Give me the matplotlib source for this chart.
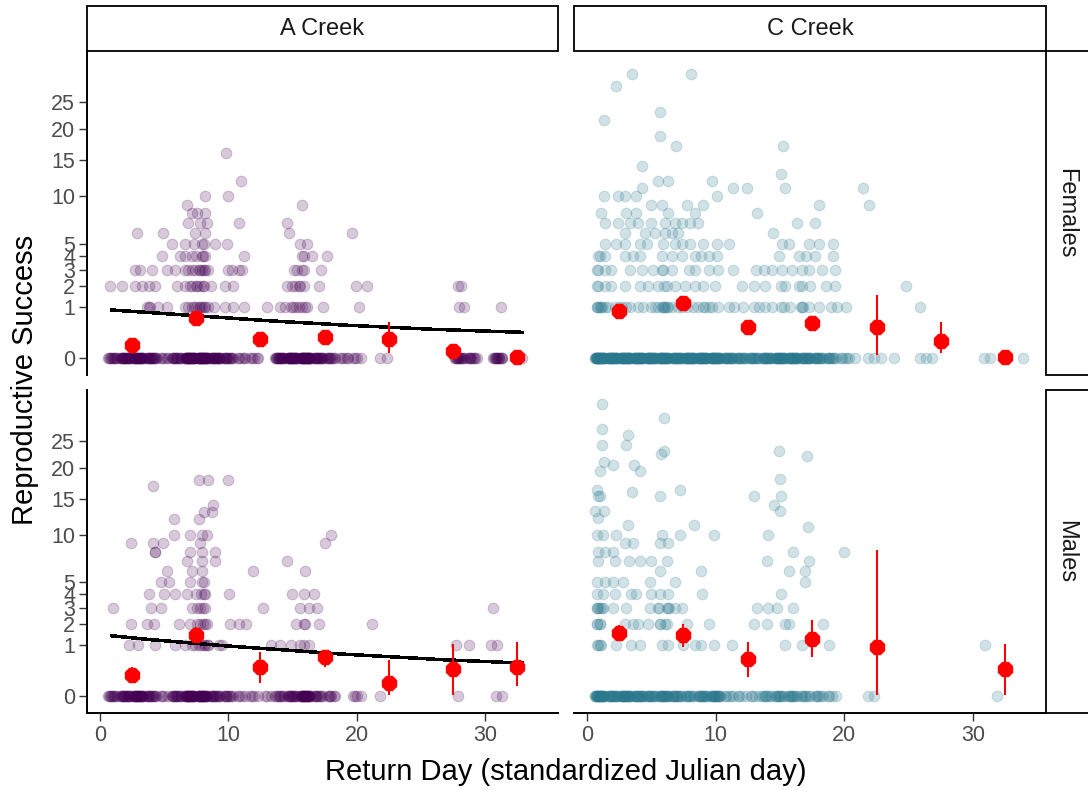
import numpy as np
import matplotlib
matplotlib.use('Agg')
import matplotlib.pyplot as plt
from matplotlib.patches import Rectangle

W, H = 1088, 790

creeks = ['A Creek', 'C Creek']
sexes = ['Females', 'Males']
creek_colors = ['#440154', '#2A788E']

day_ticks = [0, 10, 20, 30]
rs_ticks = [0, 1, 2, 3, 4, 5, 10, 15, 20, 25]

# centres of the 5-day bins used for the red mean +/- se
bin_mid = [2.5, 7.5, 12.5, 17.5, 22.5, 27.5, 32.5]

# ---- A Creek, females ----
a_fem_levels = [16, 12, 10, 9, 8, 7, 6, 5, 4, 3, 2, 1]
a_fem_days = [
    [9.8],
    [11.0],
    [10.0, 8.2],
    [6.8, 15.7],
    [7.2, 7.6, 8.15],
    [6.9, 7.8, 8.35, 10.8, 14.6],
    [2.9, 4.9, 7.4, 8.2, 14.7, 19.6],
    [5.65, 6.65, 7.3, 7.95, 8.1, 9.0, 9.9, 15.6, 16.15],
    [4.8, 6.2, 6.65, 7.2, 7.5, 7.95, 8.0, 8.15, 11.2, 15.75, 15.9, 16.5, 17.7],
    [2.75, 3.15, 4.05, 5.2, 5.85, 6.65, 6.9, 7.2, 7.4, 7.7, 7.8, 7.95, 8.1, 8.2,
     8.45, 10.0, 10.3, 10.8, 11.05, 15.1, 15.35, 15.75, 15.9, 17.2],
    [0.8, 1.75, 2.75, 3.3, 3.8, 4.3, 6.0, 6.65, 7.0, 7.2, 7.45, 7.6, 7.8, 8.0, 8.1,
     8.65, 9.75, 10.4, 14.6, 14.95, 15.2, 15.5, 15.6, 15.9, 17.05, 19.9, 20.8,
     27.85, 28.1],
    [3.65, 3.8, 3.9, 4.55, 5.2, 6.65, 6.9, 7.15, 7.3, 7.45, 7.7, 7.8, 7.95, 8.1,
     8.2, 8.45, 8.85, 9.75, 10.4, 11.2, 13.0, 14.05, 14.45, 14.85, 15.0, 15.25,
     15.5, 15.75, 16.0, 16.15, 17.4, 20.15, 27.95, 28.35, 31.2],
]
a_fem_zero_day = [1, 2, 3, 4, 5, 6, 7, 8, 9, 10, 11, 12, 14, 15, 16, 17, 18, 19, 20, 22, 28, 29, 31, 33]
a_fem_zero_n = [10, 18, 22, 15, 5, 12, 28, 28, 18, 12, 5, 5, 16, 22, 28, 15, 9, 5, 4, 2, 12, 9, 12, 1]
a_fem_mean = [0.068, 0.61, 0.138, 0.178, 0.143, 0.022, 0.0004]
a_fem_lo = [0.04, 0.5, 0.09, 0.12, 0.0096, 0.008, 0.0]
a_fem_hi = [0.11, 0.72, 0.2, 0.25, 0.51, 0.045, 0.005]
a_fem_fit_day = [0.93, 5.8, 13.5, 19.4, 26.0, 32.9]
a_fem_fit_rs = [0.89, 0.74, 0.53, 0.415, 0.32, 0.258]

# ---- C Creek, females ----
c_fem_levels = [30.8, 28.3, 23.1, 21.7, 18.8, 17.2, 14.1, 13, 12, 11, 10, 9, 8, 7, 6, 5, 4, 3, 2, 1]
c_fem_days = [
    [3.5, 8.05],
    [2.3],
    [5.7],
    [1.35],
    [5.7],
    [6.95, 15.2],
    [4.3],
    [15.1],
    [5.55, 6.3, 9.75],
    [4.3, 11.35, 12.45, 15.35, 21.45],
    [1.35, 2.4, 2.95, 3.85, 10.1],
    [5.0, 5.8, 7.75, 9.0, 18.0, 21.9],
    [1.1, 3.05, 3.85, 6.3, 8.4, 13.2],
    [1.4, 2.4, 3.35, 4.0, 5.0, 6.05, 6.85, 7.35, 8.0, 8.65, 16.35, 17.7],
    [2.95, 4.5, 5.3, 6.05, 6.6, 7.1, 14.45],
    [1.4, 2.3, 2.95, 4.1, 4.65, 5.95, 6.85, 7.35, 8.0, 9.05, 10.1, 11.0, 15.15,
     15.7, 17.25, 18.0, 19.15],
    [0.85, 1.0, 1.4, 2.95, 3.6, 4.1, 5.8, 6.6, 7.35, 8.4, 8.9, 9.45, 10.1, 14.95,
     16.45, 17.0, 17.75, 19.15],
    [0.8, 0.9, 1.4, 1.9, 3.35, 4.25, 5.15, 5.8, 5.9, 6.6, 7.9, 8.4, 9.45, 10.2,
     11.35, 13.1, 13.75, 14.4, 15.15, 15.95, 16.7, 17.25, 18.3, 19.3],
    [0.8, 0.85, 1.4, 1.9, 2.95, 4.1, 4.75, 5.55, 6.0, 6.2, 6.85, 7.6, 8.4, 9.05,
     9.95, 12.05, 12.95, 13.85, 15.05, 15.4, 16.5, 16.7, 17.35, 18.55, 19.3, 24.75],
    [0.75, 0.8, 0.9, 1.0, 1.1, 1.2, 1.4, 1.65, 2.15, 2.5, 2.7, 3.0, 3.35, 4.0,
     4.35, 5.0, 5.3, 5.55, 5.8, 5.9, 6.0, 6.1, 6.2, 6.3, 6.6, 7.1, 7.4, 7.75,
     8.25, 8.65, 9.0, 9.2, 9.5, 9.7, 10.2, 11.0, 11.4, 12.15, 12.95, 13.4, 13.85,
     14.4, 15.05, 15.3, 15.8, 16.6, 16.7, 16.8, 17.25, 18.0, 18.95, 19.45, 20.1,
     25.9],
]
c_fem_zero_day = [1, 2, 3, 4, 5, 6, 7, 8, 9, 10, 11, 12, 13, 14, 15, 16, 17, 18, 19, 20,
                  21, 22, 23, 24, 26, 27, 31, 34]
c_fem_zero_n = [30, 24, 26, 24, 22, 22, 18, 22, 22, 22, 15, 12, 12, 15, 18, 18, 15, 12, 9, 5,
                1, 2, 1, 1, 2, 1, 2, 1]
c_fem_mean = [0.85, 1.15, 0.37, 0.48, 0.37, 0.118, 0.0006]
c_fem_lo = [0.73, 1.0, 0.29, 0.40, 0.004, 0.012, 0.0]
c_fem_hi = [0.99, 1.32, 0.46, 0.58, 1.53, 0.51, 0.005]

# ---- A Creek, males ----
a_mal_levels = [18, 17, 14, 13, 12, 10, 9, 8, 7, 6, 5, 4, 3, 2, 1]
a_mal_days = [
    [7.7, 8.4, 9.95],
    [4.1],
    [8.8],
    [8.1, 8.7],
    [5.8, 7.75],
    [5.8, 7.0, 7.95, 8.35, 18.0],
    [2.4, 4.1, 4.9, 7.8, 17.5],
    [4.3, 4.3, 7.0, 7.95, 9.0],
    [6.8, 7.95, 9.0, 14.6],
    [5.2, 7.15, 7.95, 11.9, 15.95],
    [4.75, 5.4, 7.05, 7.95, 8.1],
    [3.8, 5.0, 5.85, 6.8, 7.45, 7.9, 8.1, 8.2, 10.05, 14.95, 15.9, 16.65],
    [1.0, 4.0, 4.75, 7.15, 7.6, 7.8, 8.0, 8.2, 12.7, 15.6, 16.25, 16.9, 30.6],
    [2.4, 3.65, 4.2, 6.15, 7.05, 7.6, 7.8, 8.0, 8.2, 8.35, 10.15, 10.8, 11.35,
     15.25, 15.9, 16.0, 17.05, 21.15],
    [2.25, 3.0, 4.3, 5.85, 6.65, 7.15, 7.4, 7.7, 7.9, 8.1, 8.2, 8.4, 8.45, 9.25,
     9.5, 13.3, 14.05, 14.85, 15.6, 15.9, 16.25, 27.7, 28.75, 30.45, 30.95],
]
a_mal_zero_day = [1, 2, 3, 4, 5, 6, 7, 8, 9, 10, 11, 12, 13, 14, 15, 16, 17, 18, 20, 22, 28, 31]
a_mal_zero_n = [9, 15, 20, 12, 4, 12, 22, 22, 12, 9, 4, 4, 3, 8, 12, 22, 9, 6, 4, 1, 1, 2]
a_mal_mean = [0.168, 1.45, 0.33, 0.58, 0.069, 0.29, 0.32]
a_mal_lo = [0.068, 1.09, 0.068, 0.34, 0.001, 0.001, 0.038]
a_mal_hi = [0.34, 1.87, 0.75, 0.83, 0.51, 1.05, 1.15]
a_mal_fit_day = [0.93, 4.05, 9.77, 18.9, 26.8, 32.9]
a_mal_fit_rs = [1.41, 1.23, 0.98, 0.686, 0.514, 0.425]

# ---- C Creek, males ----
c_mal_levels = [32.7, 29.7, 27.5, 26.3, 24.2, 23, 22.5, 22.1, 21.1, 20.5, 19.4, 18.2, 16.3,
                16, 15.4, 14, 13.2, 12.2, 11.3, 11, 10, 9, 8, 7, 6, 5, 4, 3, 2, 1]
c_mal_days = [
    [1.15],
    [6.0],
    [1.15],
    [3.2],
    [1.15, 3.05],
    [6.0, 14.9],
    [5.75],
    [17.1],
    [1.3],
    [2.0, 3.65],
    [1.05, 4.15],
    [15.0],
    [0.75, 7.25],
    [3.5],
    [0.85, 1.0, 5.65, 13.0, 15.1],
    [14.5],
    [0.65, 1.35, 15.0],
    [0.85],
    [3.2, 8.35],
    [17.2],
    [0.75, 1.25, 2.3, 5.85, 7.2, 9.9, 14.1],
    [2.95, 3.6, 5.65, 6.3],
    [0.85, 1.4, 2.05, 16.0, 20.0],
    [0.85, 2.15, 3.25, 4.1, 4.95, 6.2, 14.0, 17.25],
    [5.65, 8.85, 15.7, 16.95],
    [0.75, 1.4, 2.05, 2.8, 4.9, 6.85, 16.95],
    [0.75, 1.25, 2.15, 3.45, 3.85, 5.0, 5.65, 6.3, 8.95, 15.05],
    [0.75, 0.8, 0.9, 1.0, 1.2, 1.25, 2.05, 3.05, 4.9, 5.55, 5.6, 6.2, 6.3, 6.4,
     6.85, 7.35, 13.2, 14.1, 14.75, 16.0],
    [0.75, 0.8, 1.0, 1.05, 2.95, 3.6, 4.0, 4.75, 5.65, 5.7, 6.1, 6.2, 7.75, 9.45,
     12.95, 14.0, 15.4, 15.7, 18.35],
    [0.75, 0.9, 1.0, 1.1, 2.3, 3.45, 4.1, 5.8, 6.3, 7.5, 8.4, 8.9, 9.9, 11.3,
     15.35, 16.7, 18.8, 30.95],
]
c_mal_zero_day = [1, 2, 3, 4, 5, 6, 7, 8, 9, 10, 11, 12, 13, 14, 15, 16, 17, 18, 19, 22, 32]
c_mal_zero_n = [22, 15, 18, 15, 12, 15, 12, 9, 12, 15, 5, 4, 4, 7, 9, 9, 7, 6, 4, 2, 1]
# no fish in the 25-30 bin
c_mal_mean = [1.53, 1.44, 0.53, 1.26, 0.92, np.nan, 0.29]
c_mal_lo = [1.16, 0.95, 0.14, 0.59, 0.001, np.nan, 0.001]
c_mal_hi = [1.96, 2.0, 1.15, 2.24, 8.21, np.nan, 1.06]


def sq(v):
    v = np.asarray(v, dtype=float)
    return np.sign(v) * np.sqrt(np.abs(v))


def unsq(v):
    v = np.asarray(v, dtype=float)
    return np.sign(v) * v ** 2


def spread(days, counts, width=0.8):
    """ place the stacked zero observations side by side around their day """
    xs = []
    for d, n in zip(days, counts):
        k = np.arange(n)
        xs.append(d + ((k * 0.618034 + 0.3) % 1.0 - 0.5) * width)
    return np.concatenate(xs)


def flatten(levels, days):
    xs, ys = [], []
    for lv, row in zip(levels, days):
        xs.extend(row)
        ys.extend([lv] * len(row))
    return np.array(xs), np.array(ys)


plt.rcParams['font.family'] = ['Liberation Sans', 'DejaVu Sans']

fig = plt.figure(figsize=(W / 100, H / 100), dpi=100)


def px_axes(x0, y0, x1, y1):
    return fig.add_axes([x0 / W, 1 - y1 / H, (x1 - x0) / W, (y1 - y0) / H])


def px_rect(x0, y0, x1, y1):
    r = Rectangle((x0 / W, 1 - y1 / H), (x1 - x0) / W, (y1 - y0) / H,
                  transform=fig.transFigure, facecolor='white',
                  edgecolor='black', lw=1.3, clip_on=False)
    fig.add_artist(r)


col_x = [(87, 558), (574, 1046)]
row_y = [(51, 375), (390, 713)]

panels = [
    [(a_fem_levels, a_fem_days, a_fem_zero_day, a_fem_zero_n, a_fem_mean, a_fem_lo, a_fem_hi,
      a_fem_fit_day, a_fem_fit_rs),
     (c_fem_levels, c_fem_days, c_fem_zero_day, c_fem_zero_n, c_fem_mean, c_fem_lo, c_fem_hi,
      None, None)],
    [(a_mal_levels, a_mal_days, a_mal_zero_day, a_mal_zero_n, a_mal_mean, a_mal_lo, a_mal_hi,
      a_mal_fit_day, a_mal_fit_rs),
     (c_mal_levels, c_mal_days, c_mal_zero_day, c_mal_zero_n, c_mal_mean, c_mal_lo, c_mal_hi,
      None, None)],
]

for i in range(2):
    for j in range(2):
        levels, days, z_day, z_n, mean, lo, hi, fit_day, fit_rs = panels[i][j]
        x0, x1 = col_x[j]
        y0, y1 = row_y[i]
        ax = px_axes(x0, y0, x1, y1)
        ax.set_yscale('function', functions=(sq, unsq))

        col = creek_colors[j]
        px, py = flatten(levels, days)
        zx = spread(z_day, z_n)
        xs = np.concatenate([zx, px])
        ys = np.concatenate([np.zeros(len(zx)), py])
        ax.scatter(xs, ys, s=58, color=col, alpha=0.21, edgecolors=col,
                   linewidths=0.8, zorder=2)

        if fit_day is not None:
            ax.plot(fit_day, fit_rs, color='black', lw=1.8, antialiased=False, zorder=3)

        ax.vlines(bin_mid, lo, hi, color='red', lw=1.5, zorder=4)
        ax.plot(bin_mid, mean, linestyle='none', marker='8', ms=10.5,
                color='red', mec='red', zorder=5)

        ax.set_xlim(-1.0, 35.66)
        ax.set_ylim(-0.106, 36.0)
        ax.set_xticks(day_ticks)
        ax.set_yticks(rs_ticks)
        ax.set_yticklabels([str(t) for t in rs_ticks])
        ax.minorticks_off()

        for side in ['top', 'right']:
            ax.spines[side].set_visible(False)
        ax.spines['left'].set_visible(j == 0)
        ax.spines['bottom'].set_visible(i == 1)
        for side in ['left', 'bottom']:
            ax.spines[side].set_linewidth(1.4)
            ax.spines[side].set_color('black')

        ax.tick_params(axis='y', left=(j == 0), labelleft=(j == 0))
        ax.tick_params(axis='x', bottom=(i == 1), labelbottom=(i == 1))
        ax.tick_params(length=5.5, width=1.0, color='#333333', labelcolor='#4D4D4D',
                       labelsize=15.5, pad=3)
        ax.set_facecolor('none')

# facet strips along the top and the right side
for j, name in enumerate(creeks):
    x0, x1 = col_x[j]
    px_rect(x0, 6, x1, 51)
    fig.text((x0 + x1) / 2 / W, 1 - 29 / H, name, ha='center', va='center',
             fontsize=17, color='#1A1A1A')

for i, name in enumerate(sexes):
    y0, y1 = row_y[i]
    px_rect(1046, y0, 1092, y1)
    fig.text(1066 / W, 1 - (y0 + y1) / 2 / H, name, ha='center', va='center',
             rotation=-90, fontsize=17, color='#1A1A1A')

fig.text(25 / W, 1 - 380 / H, 'Reproductive Success', rotation=90,
         ha='center', va='center', fontsize=21)
fig.text(566 / W, 1 - 772 / H, 'Return Day (standardized Julian day)',
         ha='center', va='center', fontsize=21)

fig.savefig('out.png', dpi=100, facecolor='white')
